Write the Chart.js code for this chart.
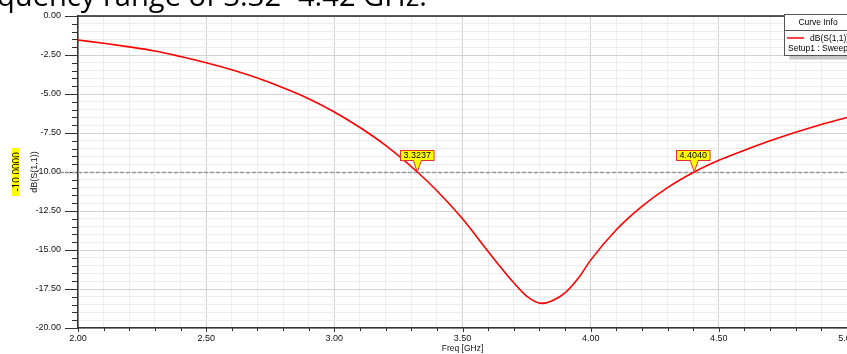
<!DOCTYPE html>
<html>
<head>
<meta charset="utf-8">
<script src="https://cdn.jsdelivr.net/npm/chart.js@4.4.1/dist/chart.umd.min.js"></script>
<style>
html,body{margin:0;padding:0;background:#fff;}
#wrap{width:847px;height:354px;position:relative;}
</style>
</head>
<body>
<div id="wrap"><canvas id="c" width="847" height="354"></canvas></div>
<script>
// ---- data ----
const freqGHz = [2.00,2.10,2.20,2.30,2.40,2.50,2.60,2.70,2.80,2.90,3.00,3.10,3.20,3.3237,3.40,3.50,3.60,3.70,3.75,3.81,3.85,3.90,3.95,4.00,4.10,4.20,4.30,4.404,4.50,4.60,4.70,4.80,4.90,5.00];
const s11dB   = [-1.54,-1.75,-1.98,-2.24,-2.60,-3.00,-3.45,-3.98,-4.60,-5.30,-6.15,-7.15,-8.30,-10.00,-11.20,-13.00,-15.10,-17.10,-17.95,-18.42,-18.25,-17.75,-16.85,-15.65,-13.70,-12.20,-11.00,-10.00,-9.25,-8.60,-8.00,-7.45,-6.95,-6.50];
const markerFreqs = [3.3237, 4.4040];
const markerLabels = ['3.3237', '4.4040'];
const refLevel = -10;
const refLabel = '-10.0000';
const seriesName = 'dB(S(1,1))';
const setupName = 'Setup1 : Sweep';
const legendTitle = 'Curve Info';
const xTitle = 'Freq [GHz]';
const yTitle = 'dB(S(1,1))';
const headerText = 'quency range of 3.32 -4.42 GHz.';

const FONT = '"Liberation Sans", Arial, sans-serif';
const near = (v, m) => Math.abs(v / m - Math.round(v / m)) < 1e-6;

const decor = {
  id: 'decor',
  beforeDatasetsDraw(chart) {
    const {ctx, chartArea: a, scales: {x, y}} = chart;
    ctx.save();
    ctx.strokeStyle = '#222'; ctx.lineWidth = 1.5;
    ctx.beginPath(); ctx.moveTo(a.left, a.top); ctx.lineTo(a.right, a.top); ctx.stroke();
    ctx.strokeStyle = '#333'; ctx.lineWidth = 1;
    for (let v = y.min; v <= y.max + 1e-9; v += 0.5) {
      const py = Math.round(y.getPixelForValue(v)) + 0.5;
      const len = near(v, 2.5) ? 13 : 6;
      ctx.beginPath(); ctx.moveTo(a.left - len, py); ctx.lineTo(a.left, py); ctx.stroke();
    }
    for (let i = 0; i <= 30; i++) {
      const v = 2 + i * 0.1;
      const px = Math.round(x.getPixelForValue(v)) + 0.5;
      const len = (i % 5 === 0) ? 4 : 3;
      ctx.beginPath(); ctx.moveTo(px, a.bottom); ctx.lineTo(px, a.bottom + len); ctx.stroke();
    }
    const ry = Math.round(y.getPixelForValue(refLevel)) + 0.5;
    ctx.strokeStyle = '#9a9a9a'; ctx.lineWidth = 1.5; ctx.setLineDash([4, 2]);
    ctx.beginPath(); ctx.moveTo(60, ry); ctx.lineTo(a.right, ry); ctx.stroke();
    ctx.setLineDash([]);
    ctx.restore();
  },
  afterDatasetsDraw(chart) {
    const {ctx, chartArea: a, scales: {x, y}} = chart;
    ctx.save();
    ctx.font = '9px ' + FONT;
    ctx.textBaseline = 'middle'; ctx.textAlign = 'center';
    markerFreqs.forEach((f, i) => {
      const px = x.getPixelForValue(f), py = y.getPixelForValue(refLevel);
      const w = ctx.measureText(markerLabels[i]).width + 6;
      const bx = Math.round(px - w / 2 - 1) + 0.5, by = 150.5, bh = 10;
      ctx.fillStyle = '#ffff00'; ctx.strokeStyle = '#e03030'; ctx.lineWidth = 1;
      ctx.beginPath();
      ctx.moveTo(px - 4, by + bh); ctx.lineTo(px, py); ctx.lineTo(px + 4, by + bh); ctx.closePath();
      ctx.fill(); ctx.stroke();
      ctx.fillRect(bx, by, w, bh); ctx.strokeRect(bx, by, w, bh);
      ctx.fillStyle = '#ffff00'; ctx.fillRect(px - 3.5, by + bh - 0.5, 7, 1.5);
      ctx.fillStyle = '#000';
      ctx.fillText(markerLabels[i], bx + w / 2, by + bh / 2 + 0.5);
    });
    const ry = y.getPixelForValue(refLevel);
    ctx.save();
    ctx.beginPath(); ctx.rect(12, ry - 24, 7, 48); ctx.clip();
    ctx.fillStyle = '#ffff00'; ctx.fillRect(12, ry - 24, 7, 48);
    ctx.translate(17, ry); ctx.rotate(-Math.PI / 2);
    ctx.fillStyle = '#000'; ctx.font = '10px ' + FONT;
    ctx.textAlign = 'center'; ctx.textBaseline = 'middle';
    ctx.fillText(refLabel, 0, 0);
    ctx.restore();
    const lx = 784.5, ly = 14.5, lw = 64, lh = 41;
    ctx.fillStyle = '#c8c8c8'; ctx.fillRect(lx + 5, ly + lh, lw, 4);
    ctx.fillStyle = '#fff'; ctx.fillRect(lx, ly, lw, lh);
    ctx.strokeStyle = '#555'; ctx.lineWidth = 1; ctx.strokeRect(lx, ly, lw, lh);
    ctx.beginPath(); ctx.moveTo(lx, 30.5); ctx.lineTo(lx + lw, 30.5); ctx.stroke();
    ctx.fillStyle = '#000'; ctx.font = '8.5px ' + FONT;
    ctx.textAlign = 'center'; ctx.textBaseline = 'middle';
    ctx.fillText(legendTitle, 818, 22.5);
    ctx.strokeStyle = '#ff0000'; ctx.lineWidth = 1.5;
    ctx.beginPath(); ctx.moveTo(787, 38); ctx.lineTo(804, 38); ctx.stroke();
    ctx.textAlign = 'left';
    ctx.fillText(seriesName, 810, 38.5);
    ctx.fillText(setupName, 788, 49);
    ctx.fillStyle = '#000';
    let fs = 24;
    ctx.font = fs + 'px "Open Sans", ' + FONT;
    const tw = ctx.measureText(headerText).width;
    fs = fs * 430 / tw;
    ctx.font = fs.toFixed(2) + 'px "Open Sans", ' + FONT;
    ctx.textAlign = 'left'; ctx.textBaseline = 'alphabetic';
    ctx.fillText(headerText, -3, 6);
    ctx.restore();
  }
};

new Chart(document.getElementById('c'), {
  type: 'line',
  data: {
    datasets: [{
      label: seriesName,
      data: freqGHz.map((f, i) => ({x: f, y: s11dB[i]})),
      borderColor: '#ff0000',
      borderWidth: 1.6,
      pointRadius: 0,
      cubicInterpolationMode: 'monotone',
      fill: false
    }]
  },
  options: {
    responsive: false,
    animation: false,
    devicePixelRatio: 1,
    layout: {padding: {top: 16, right: 0, left: 0, bottom: 0}},
    plugins: {legend: {display: false}, tooltip: {enabled: false}},
    scales: {
      x: {
        type: 'linear', min: 2, max: 5,
        afterFit: s => { s.height = 26; s.paddingLeft = 0; s.paddingRight = 0; },
        ticks: {
          stepSize: 0.1, autoSkip: false, maxRotation: 0, padding: 5,
          color: '#111', font: {family: FONT, size: 9},
          callback: v => near(v, 0.5) ? v.toFixed(2) : ''
        },
        grid: {
          drawTicks: false,
          color: c => near(c.tick.value, 0.5) ? '#d2d2d2' : '#ececec',
          lineWidth: 1
        },
        border: {color: '#333', width: 1.5},
        title: {display: true, text: xTitle, color: '#111', font: {family: FONT, size: 8.5}, padding: {top: 0, bottom: 0}}
      },
      y: {
        min: -20, max: 0,
        afterFit: s => { s.width = 78; s.paddingTop = 0; s.paddingBottom = 0; },
        ticks: {
          stepSize: 0.5, autoSkip: false, padding: 17,
          color: '#111', font: {family: FONT, size: 9},
          callback: v => near(v, 2.5) ? v.toFixed(2) : ''
        },
        grid: {
          drawTicks: false,
          color: c => near(c.tick.value, 2.5) ? '#d2d2d2' : '#ececec',
          lineWidth: 1
        },
        border: {color: '#333', width: 1.5},
        title: {display: true, text: yTitle, color: '#111', font: {family: FONT, size: 9}, padding: {top: 29.5, bottom: 0}}
      }
    }
  },
  plugins: [decor]
});
</script>
</body>
</html>
